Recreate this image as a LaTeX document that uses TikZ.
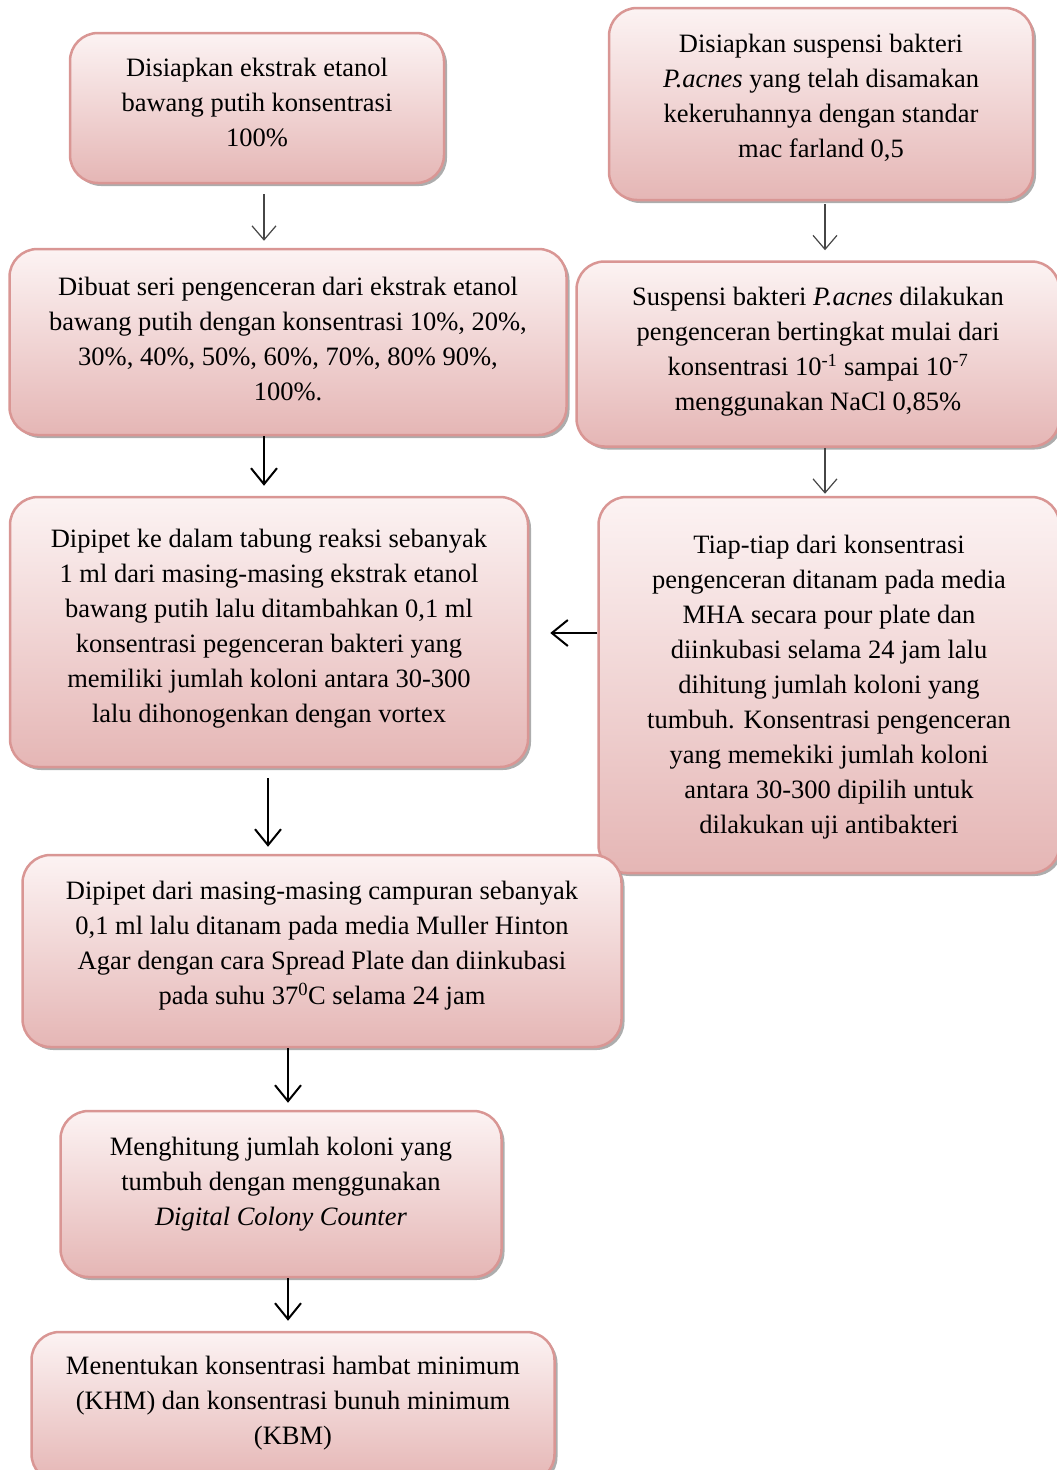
\documentclass[tikz,border=0pt]{standalone}
\usepackage{fontspec}
\setmainfont{Liberation Serif}
\usetikzlibrary{arrows.meta,shadows}
\definecolor{boxline}{RGB}{217,150,148}
\definecolor{boxtop}{RGB}{252,243,243}
\definecolor{boxbottom}{RGB}{229,182,181}
\definecolor{arrowgray}{RGB}{70,70,70}
\begin{document}
\begin{tikzpicture}[x=1pt, y=-1pt,
    stepbox/.style={draw=boxline, line width=2.5pt, rounded corners=28pt, top color=boxtop, bottom color=boxbottom, align=center, inner sep=0pt, font=\fontsize{26.5}{35}\selectfont, drop shadow={shadow xshift=3pt, shadow yshift=-3pt, fill=black!40, opacity=0.8}},
    lift/.style={text depth=#1},
    thinarr/.style={-{Straight Barb[length=14pt, width=24pt]}, arrowgray, line width=1.2pt},
    thickarr/.style={-{Straight Barb[length=16pt, width=26pt]}, black, line width=2pt}]
    \useasboundingbox (0,0) rectangle (1057,1470);
    \node[stepbox, lift=12pt, minimum width=374pt, minimum height=150pt] (ekstrak) at (257,108) {Disiapkan ekstrak etanol\\bawang putih konsentrasi\\100\%};
    \node[stepbox, lift=17pt, minimum width=424pt, minimum height=192pt] (suspensi) at (821,104) {Disiapkan suspensi bakteri\\\textit{P.acnes} yang telah disamakan\\kekeruhannya dengan standar\\mac farland 0,5};
    \node[stepbox, lift=7pt, minimum width=557pt, minimum height=186pt] (seri) at (288,342) {Dibuat seri pengenceran dari ekstrak etanol\\bawang putih dengan konsentrasi 10\%, 20\%,\\30\%, 40\%, 50\%, 60\%, 70\%, 80\% 90\%,\\100\%.};
    \node[stepbox, lift=11pt, minimum width=483pt, minimum height=185pt] (bertingkat) at (818,354) {Suspensi bakteri \textit{P.acnes} dilakukan\\pengenceran bertingkat mulai dari\\konsentrasi 10\textsuperscript{-1} sampai 10\textsuperscript{-7}\\menggunakan NaCl 0,85\%};
    \node[stepbox, lift=13pt, minimum width=518pt, minimum height=270pt] (pipet) at (269,632) {Dipipet ke dalam tabung reaksi sebanyak\\1 ml dari masing-masing ekstrak etanol\\bawang putih lalu ditambahkan 0,1 ml\\konsentrasi pegenceran bakteri yang\\memiliki jumlah koloni antara 30-300\\lalu dihonogenkan dengan vortex};
    \node[stepbox, lift=2pt, minimum width=461pt, minimum height=376pt] (tanam) at (829,685) {Tiap-tiap dari konsentrasi\\pengenceran ditanam pada media\\MHA secara pour plate dan\\diinkubasi selama 24 jam lalu\\dihitung jumlah koloni yang\\tumbuh. Konsentrasi pengenceran\\yang memekiki jumlah koloni\\antara 30-300 dipilih untuk\\dilakukan uji antibakteri};
    \node[stepbox, lift=17pt, minimum width=599pt, minimum height=192pt] (spread) at (322,951) {Dipipet dari masing-masing campuran sebanyak\\0,1 ml lalu ditanam pada media Muller Hinton\\Agar dengan cara Spread Plate dan diinkubasi\\pada suhu 37\textsuperscript{0}C selama 24 jam};
    \node[stepbox, lift=26pt, minimum width=441pt, minimum height=166pt] (hitung) at (281,1194) {Menghitung jumlah koloni yang\\tumbuh dengan menggunakan\\\textit{Digital Colony Counter}};
    \node[stepbox, lift=14pt, minimum width=523pt, minimum height=150pt] (khm) at (293,1407) {Menentukan konsentrasi hambat minimum\\(KHM) dan konsentrasi bunuh minimum\\(KBM)};
    \coordinate (leftA) at (264,0);
    \coordinate (rightA) at (825,0);
    \coordinate (leftB) at (268,0);
    \coordinate (leftC) at (288,0);
    \coordinate (across) at (0,633);
    \draw[thinarr, shorten <=10pt, shorten >=7pt] (ekstrak.south -| leftA) -- (seri.north -| leftA);
    \draw[thinarr, shorten <=3pt, shorten >=10pt] (suspensi.south -| rightA) -- (bertingkat.north -| rightA);
    \draw[thickarr, shorten >=10pt] (seri.south -| leftA) -- (pipet.north -| leftA);
    \draw[thinarr, shorten >=2pt] (bertingkat.south -| rightA) -- (tanam.north -| rightA);
    \draw[thickarr, shorten >=21pt] (tanam.west |- across) -- (pipet.east |- across);
    \draw[thickarr, shorten <=10pt, shorten >=7pt] (pipet.south -| leftB) -- (spread.north -| leftB);
    \draw[thickarr, shorten >=7pt] (spread.south -| leftC) -- (hitung.north -| leftC);
    \draw[thickarr, shorten >=10pt] (hitung.south -| leftC) -- (khm.north -| leftC);
\end{tikzpicture}
\end{document}
